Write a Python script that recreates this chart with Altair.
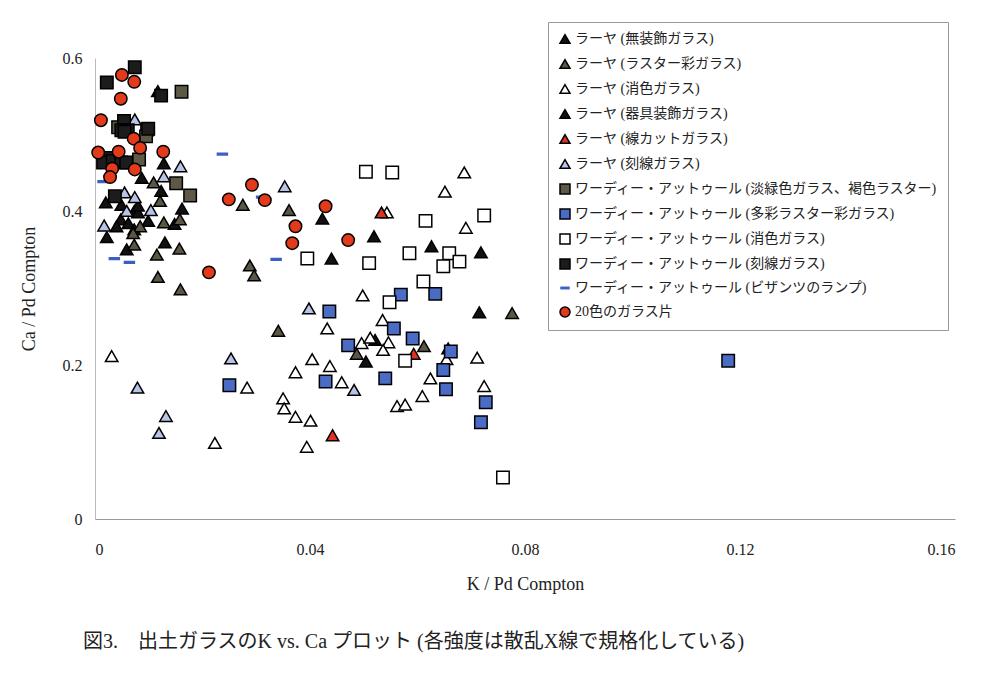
import altair as alt
import pandas as pd

cats = [
    "ラーヤ (無装飾ガラス)",
    "ラーヤ (ラスター彩ガラス)",
    "ラーヤ (消色ガラス)",
    "ラーヤ (器具装飾ガラス)",
    "ラーヤ (線カットガラス)",
    "ラーヤ (刻線ガラス)",
    "ワーディー・アットゥール (淡緑色ガラス、褐色ラスター)",
    "ワーディー・アットゥール (多彩ラスター彩ガラス)",
    "ワーディー・アットゥール (消色ガラス)",
    "ワーディー・アットゥール (刻線ガラス)",
    "ワーディー・アットゥール (ビザンツのランプ)",
    "20色のガラス片",
]

# A: ラーヤ 無装飾
a_x = [0.0117, 0.0128, 0.0087, 0.0123, 0.0020, 0.0162, 0.0073, 0.0048, 0.0080, 0.0099,
       0.0148, 0.0040, 0.0062, 0.0073, 0.0022, 0.0059, 0.0130, 0.0423, 0.0519, 0.0626,
       0.0718, 0.0521, 0.0657]
a_y = [0.557, 0.463, 0.444, 0.427, 0.412, 0.404, 0.401, 0.390, 0.399, 0.388,
       0.384, 0.381, 0.385, 0.377, 0.367, 0.351, 0.360, 0.391, 0.368, 0.355,
       0.347, 0.233, 0.222]
# B: ラーヤ ラスター彩
b_x = [0.0109, 0.0121, 0.0158, 0.0128, 0.0084, 0.0073, 0.0157, 0.0115, 0.0117, 0.0159,
       0.0071, 0.0275, 0.0361, 0.0288, 0.0296, 0.0341, 0.0487, 0.0612, 0.0776]
b_y = [0.438, 0.414, 0.390, 0.386, 0.381, 0.357, 0.352, 0.344, 0.315, 0.299,
       0.372, 0.409, 0.402, 0.330, 0.317, 0.245, 0.215, 0.225, 0.268]
# C: ラーヤ 消色
c_x = [0.0687, 0.0651, 0.0690, 0.0543, 0.0498, 0.0432, 0.0535, 0.0496, 0.0512, 0.0546,
       0.0536, 0.0654, 0.0404, 0.0437, 0.0373, 0.0459, 0.0624, 0.0609, 0.0562, 0.0577,
       0.0350, 0.0352, 0.0373, 0.0401, 0.0394, 0.0031, 0.0283, 0.0223, 0.0711, 0.0724]
c_y = [0.451, 0.426, 0.379, 0.399, 0.291, 0.248, 0.259, 0.229, 0.236, 0.230,
       0.220, 0.208, 0.208, 0.199, 0.191, 0.178, 0.183, 0.160, 0.147, 0.149,
       0.157, 0.144, 0.133, 0.128, 0.094, 0.212, 0.171, 0.099, 0.210, 0.173]
# D: ラーヤ 器具装飾
d_x = [0.0049, 0.0080, 0.0440, 0.0715, 0.0504]
d_y = [0.409, 0.408, 0.339, 0.269, 0.205]
# E: ラーヤ 線カット
e_x = [0.0533, 0.0593, 0.0442]
e_y = [0.399, 0.215, 0.109]
# F: ラーヤ 刻線
f_x = [0.0074, 0.0159, 0.0128, 0.0055, 0.0074, 0.0059, 0.0104, 0.0017, 0.0353, 0.0398,
       0.0482, 0.0253, 0.0079, 0.0132, 0.0119]
f_y = [0.520, 0.459, 0.446, 0.425, 0.419, 0.401, 0.402, 0.382, 0.433, 0.274,
       0.168, 0.209, 0.171, 0.134, 0.112]
# G: ワーディー 淡緑色・褐色ラスター
g_x = [0.0161, 0.0097, 0.0095, 0.0082, 0.0151, 0.0177, 0.0043]
g_y = [0.556, 0.507, 0.498, 0.468, 0.437, 0.421, 0.510]
# H: ワーディー 多彩ラスター彩
h_x = [0.0250, 0.0569, 0.0633, 0.0436, 0.0556, 0.0591, 0.0471, 0.0662, 0.0648, 0.0429,
       0.0540, 0.0653, 0.0727, 0.0718, 0.1178]
h_y = [0.174, 0.292, 0.293, 0.270, 0.248, 0.235, 0.226, 0.218, 0.194, 0.179,
       0.183, 0.169, 0.152, 0.126, 0.206]
# I: ワーディー 消色
i_x = [0.0553, 0.0504, 0.0724, 0.0615, 0.0585, 0.0659, 0.0678, 0.0648, 0.0611, 0.0548,
       0.0395, 0.0510, 0.0577, 0.0759]
i_y = [0.451, 0.452, 0.395, 0.388, 0.346, 0.346, 0.335, 0.329, 0.309, 0.282,
       0.339, 0.333, 0.206, 0.054]
# J: ワーディー 刻線
j_x = [0.0074, 0.0022, 0.0123, 0.0054, 0.0049, 0.0061, 0.0099, 0.0025, 0.0015, 0.0033,
       0.0049, 0.0058, 0.0037, 0.0055]
j_y = [0.588, 0.568, 0.551, 0.518, 0.506, 0.506, 0.508, 0.470, 0.464, 0.466,
       0.464, 0.464, 0.420, 0.504]
# K: ワーディー ビザンツのランプ
k_x = [0.0237, 0.0015, 0.0036, 0.0064, 0.0310, 0.0337]
k_y = [0.475, 0.439, 0.339, 0.334, 0.419, 0.338]
# L: 20色のガラス片
l_x = [0.0050, 0.0073, 0.0048, 0.0011, 0.0072, 0.0084, 0.0006, 0.0044, 0.0127, 0.0032,
       0.0074, 0.0028, 0.0292, 0.0249, 0.0316, 0.0429, 0.0373, 0.0367, 0.0471, 0.0212]
l_y = [0.578, 0.569, 0.547, 0.519, 0.495, 0.483, 0.477, 0.478, 0.478, 0.456,
       0.455, 0.445, 0.435, 0.416, 0.415, 0.407, 0.381, 0.359, 0.363, 0.321]

series = [(a_x, a_y), (b_x, b_y), (c_x, c_y), (d_x, d_y), (e_x, e_y), (f_x, f_y),
          (g_x, g_y), (h_x, h_y), (i_x, i_y), (j_x, j_y), (k_x, k_y), (l_x, l_y)]

rows = []
for ci, (xs, ys) in enumerate(series):
    for x, y in zip(xs, ys):
        rows.append({"cat": cats[ci], "K": x, "Ca": y, "ord": ci})
df = pd.DataFrame(rows)

dash = "M-0.8,-0.14L0.8,-0.14L0.8,0.14L-0.8,0.14Z"
shapes = ["triangle-up"] * 6 + ["square"] * 4 + [dash, "circle"]
fills = ["#111111", "#5c5645", "#ffffff", "#111111", "#e0321e", "#b7c4e6",
         "#5e5846", "#4a6cc4", "#ffffff", "#1c1c1c", "#3d5fc2", "#e23a1a"]
strokes = ["#000000"] * 10 + ["#3d5fc2", "#000000"]

serif = "Liberation Serif, Noto Sans CJK JP"

chart = alt.Chart(df).mark_point(filled=False, size=155, strokeWidth=1.5, opacity=1).encode(
    x=alt.X("K:Q", scale=alt.Scale(domain=[0, 0.16], nice=False),
            axis=alt.Axis(values=[0, 0.04, 0.08, 0.12, 0.16], format="~g", title="K / Pd Compton",
                          grid=False, ticks=False, labelPadding=22, titlePadding=18,
                          domainColor="#999999", labelFont=serif, titleFont=serif,
                          labelFontSize=16, titleFontSize=18, titleFontWeight="normal",
                          labelColor="#222222", titleColor="#222222")),
    y=alt.Y("Ca:Q", scale=alt.Scale(domain=[0, 0.6], nice=False),
            axis=alt.Axis(values=[0, 0.2, 0.4, 0.6], format="~g", title="Ca / Pd Compton",
                          grid=False, ticks=False, labelPadding=13, titlePadding=24,
                          domainColor="#bbbbbb", labelFont=serif, titleFont=serif,
                          labelFontSize=16, titleFontSize=18, titleFontWeight="normal",
                          labelColor="#222222", titleColor="#222222")),
    shape=alt.Shape("cat:N", scale=alt.Scale(domain=cats, range=shapes),
                    legend=alt.Legend(orient="none", legendX=453, legendY=-36, title=None,
                                      strokeColor="#999999", fillColor="white", padding=10,
                                      rowPadding=9, labelFont=serif, labelFontSize=14,
                                      labelColor="#222222", symbolSize=100, symbolStrokeWidth=1.5,
                                      labelLimit=500, symbolOpacity=1, labelOffset=3,
                                      offset=0)),
    fill=alt.Fill("cat:N", scale=alt.Scale(domain=cats, range=fills), legend=None),
    stroke=alt.Stroke("cat:N", scale=alt.Scale(domain=cats, range=strokes), legend=None),
    order=alt.Order("ord:Q"),
).properties(
    width=860, height=461,
    autosize=alt.AutoSizeParams(type="none"),
    padding={"left": 87, "top": 50, "right": 30, "bottom": 160},
    title=alt.TitleParams(text="図3.\u2003出土ガラスのK vs. Ca プロット (各強度は散乱X線で規格化している)",
                          orient="bottom", anchor="start", font=serif, fontSize=20,
                          fontWeight="normal", color="#222222", offset=39, dx=63),
).configure_view(stroke=None)

chart.save("out.html", embed_options={"renderer": "svg", "actions": False})
